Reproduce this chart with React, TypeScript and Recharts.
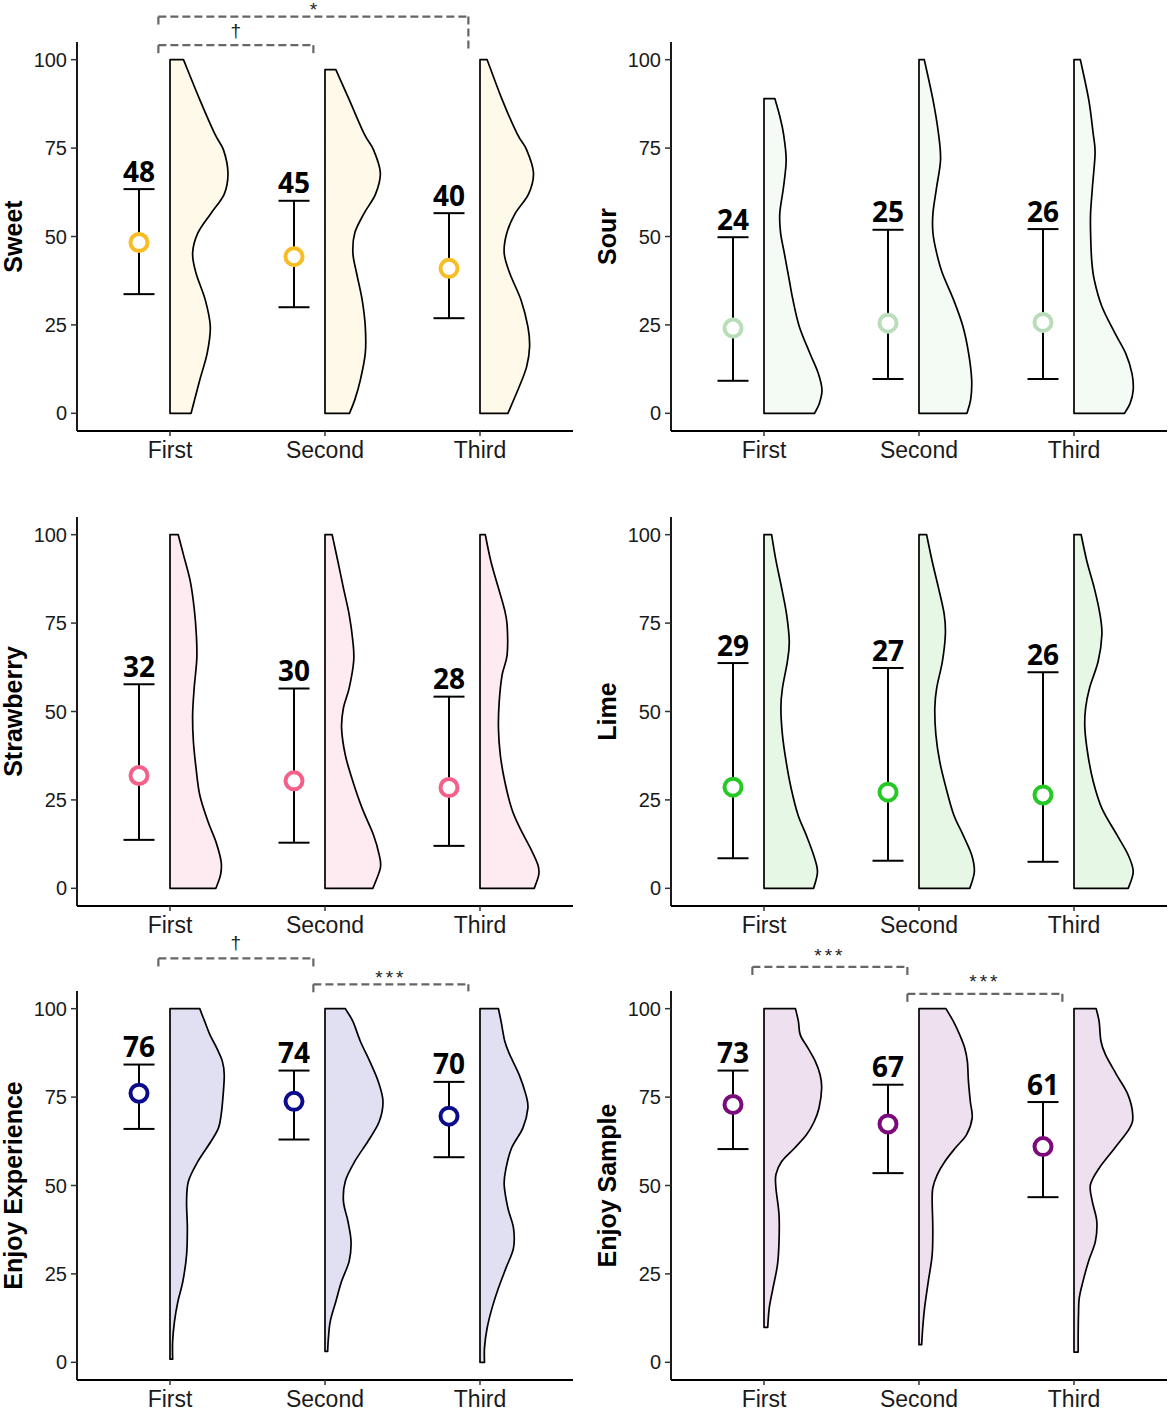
import React from "react";
import { ComposedChart, ErrorBar, ReferenceDot, ReferenceLine, Scatter, XAxis, YAxis } from "recharts";

type Pair = [number, number];
type Bracket = { from: number; to: number; text: string; y: number; leftTip: number; rightTip: number; textY: number };

const categories = ["First", "Second", "Third"];
const yTicks = [0, 25, 50, 75, 100];

// violin outlines: [score, half-width in % of the category step], from top to bottom
const sweetMeans = [48.3, 44.3, 41.0];
const sweetLower = [33.7, 30.0, 26.9];
const sweetUpper = [63.4, 60.1, 56.6];
const sweetLabels = ["48", "45", "40"];
const sweetViolins: Pair[][] = [
  [[100, 8.7], [88.7, 19.2], [79, 28.9], [74.5, 34.5], [68, 37.4], [62, 35], [56.6, 26.5], [51, 18], [45.3, 14.6], [39.6, 16.8], [32, 22.8], [24.5, 26], [17, 24], [9.4, 19.2], [0, 13.6]],
  [[97.2, 7], [88.7, 15.6], [79, 25.3], [74.5, 31.3], [68, 35.7], [62, 32.6], [56.6, 25.3], [51, 19.2], [45.3, 18], [39.6, 20.4], [32, 24], [24.5, 26], [17, 26], [9.4, 22.8], [3.8, 19.2], [0, 15.8]],
  [[100, 4.6], [88.7, 14.3], [79, 24], [74.5, 30.1], [68, 34.5], [62, 31.3], [56.6, 22.8], [51, 17.3], [45.3, 15.6], [39.6, 19.2], [32, 26.5], [24.5, 30.9], [18.9, 32], [13.2, 30.1], [7.5, 25.3], [0, 18]],
];
const sweetBrackets: Bracket[] = [
  { from: 0, to: 1, text: "†", y: 104.1, leftTip: 101.5, rightTip: 101.5, textY: 108.4 },
  { from: 0, to: 2, text: "*", y: 112.2, leftTip: 109.6, rightTip: 102.4, textY: 114.2 },
];

const sourMeans = [24.1, 25.5, 25.7];
const sourLower = [9.2, 9.7, 9.7];
const sourUpper = [49.8, 51.9, 52.1];
const sourLabels = ["24", "25", "26"];
const sourViolins: Pair[][] = [
  [[89, 7], [84, 10.2], [79, 12.6], [71.7, 14.3], [64, 12.6], [56.6, 10.2], [51, 10.7], [45.3, 13.1], [37.7, 16.3], [32, 18.7], [24.5, 22.8], [17, 29.6], [11.3, 35], [6.6, 37.4], [2.8, 35.7], [0, 32.6]],
  [[100, 3.4], [88.7, 9], [79, 12.6], [71.7, 13.9], [64, 11.4], [56.6, 9], [51, 9], [45.3, 11.4], [39.6, 15.1], [32, 22.4], [24.5, 28.4], [17, 32], [9.4, 34], [3.8, 33.3], [0, 30.9]],
  [[100, 4.1], [88.7, 9.5], [79, 12.4], [73.6, 13.6], [64, 11.9], [56.6, 10.7], [51, 10.7], [43.4, 11.4], [37.7, 13.1], [30.2, 18], [22.6, 26.5], [17, 33.3], [11.3, 37.4], [6.6, 38.2], [2.8, 36.2], [0, 32.6]],
];

const strawberryMeans = [31.9, 30.4, 28.5];
const strawberryLower = [13.7, 12.9, 12.0];
const strawberryUpper = [57.7, 56.5, 54.2];
const strawberryLabels = ["32", "30", "28"];
const strawberryViolins: Pair[][] = [
  [[100, 5.3], [94.3, 8.7], [86.8, 13.1], [79.2, 15.6], [71.7, 17], [65, 17.3], [56.6, 15.6], [49, 14.6], [41.5, 15.1], [34, 16.8], [26.4, 19.2], [18.9, 24.5], [13.2, 29.6], [7.5, 33], [3.8, 32.6], [0, 29.6]],
  [[100, 4.6], [92.5, 8.3], [84.9, 11.9], [77.4, 15.6], [69.8, 18], [64.2, 18.5], [56.6, 15.6], [51, 11.9], [45.3, 10.7], [37.7, 13.1], [30.2, 18], [22.6, 24], [15.1, 31.3], [9.4, 35], [5.7, 35.7], [0, 30.9]],
  [[100, 3.4], [92.5, 7], [84.9, 11.9], [79.2, 15.6], [74.5, 17.5], [66, 17.5], [60.4, 14.3], [52.8, 12.4], [45.3, 11.9], [37.7, 13.1], [30.2, 16], [22.6, 20.4], [17, 25.8], [11.3, 32.6], [6.6, 37.4], [3.8, 37.9], [0, 35]],
];

const limeMeans = [28.6, 27.2, 26.4];
const limeLower = [8.5, 7.8, 7.5];
const limeUpper = [63.7, 62.3, 61.1];
const limeLabels = ["29", "27", "26"];
const limeViolins: Pair[][] = [
  [[100, 4.9], [92.5, 7.8], [84.9, 11.4], [77.4, 14.6], [69.8, 16.3], [64.2, 15.1], [56.6, 11.9], [51, 10.9], [43.4, 11.9], [35.8, 14.3], [28.3, 17.5], [20.8, 21.9], [15.1, 27.2], [9.4, 32], [4.7, 34.5], [0, 32]],
  [[100, 4.9], [92.5, 8.5], [84.9, 12.6], [77.4, 16.3], [71.7, 17], [64.2, 15.1], [56.6, 11.4], [51, 10.2], [43.4, 10.9], [35.8, 13.4], [28.3, 17.5], [20.8, 22.4], [15.1, 28.4], [9.4, 34], [4.7, 35.7], [0, 32.8]],
  [[100, 4.6], [92.5, 8.3], [84.9, 13.1], [77.4, 16.8], [71.7, 18], [64.2, 15.6], [56.6, 10], [51, 7.5], [45.3, 7], [37.7, 9], [30.2, 12.4], [22.6, 18], [15.1, 27.7], [9.4, 35], [4.7, 38.2], [0, 35]],
];

const experienceMeans = [76.1, 73.8, 69.6];
const experienceLower = [66.0, 63.0, 58.0];
const experienceUpper = [84.2, 82.5, 79.3];
const experienceLabels = ["76", "74", "70"];
const experienceViolins: Pair[][] = [
  [[100, 19.2], [96.4, 22.4], [92.6, 25.8], [88.9, 30.1], [85.1, 33.8], [81.3, 35], [75.7, 34.3], [70, 33], [66.3, 31.3], [62.5, 26.5], [56.8, 18], [51.2, 11.9], [45.5, 10.7], [38, 11.2], [30.4, 10.7], [22.9, 8.3], [17.2, 5.1], [11.6, 2.9], [5.9, 1.7], [0.9, 1.7]],
  [[100, 13.1], [96.4, 18], [90.8, 22.8], [85.1, 28.9], [79.5, 34.3], [73.8, 37.4], [68.1, 35], [62.5, 27.7], [56.8, 19.2], [51.2, 13.1], [45.5, 11.9], [39.9, 14.8], [34.2, 16.8], [28.6, 15.6], [22.9, 10.7], [17.2, 7], [11.6, 3.4], [6.9, 2.2], [3.1, 1.7]],
  [[100, 11.9], [96.4, 13.6], [90.8, 16], [87, 19.2], [81.3, 25.3], [75.7, 29.6], [71.9, 30.9], [66.3, 27.7], [60.6, 20.4], [54.9, 16.8], [50.2, 15.6], [43.6, 18], [38, 21.6], [32.3, 21.6], [26.7, 16.8], [21, 11.9], [15.4, 7.8], [9.7, 4.6], [4.1, 2.9], [0, 2.9]],
];
const experienceBrackets: Bracket[] = [
  { from: 0, to: 1, text: "†", y: 114.2, leftTip: 111.7, rightTip: 111.7, textY: 118.7 },
  { from: 1, to: 2, text: "***", y: 106.9, leftTip: 104, rightTip: 104.9, textY: 108.9 },
];

const sampleMeans = [72.9, 67.4, 61.0];
const sampleLower = [60.3, 53.5, 46.7];
const sampleUpper = [82.5, 78.5, 73.6];
const sampleLabels = ["73", "67", "61"];
const sampleViolins: Pair[][] = [
  [[100, 20.3], [96.4, 22.2], [92.6, 23.4], [88.9, 28.3], [85.1, 33.1], [81.3, 36.2], [77.5, 37.2], [71.9, 35.5], [68.1, 32.4], [64.4, 27.5], [60.6, 19.8], [56.8, 11.4], [53.1, 7.7], [49.3, 7.7], [41.7, 9.7], [34.2, 9.7], [27.6, 8.7], [21, 5.8], [15.4, 3.4], [9.9, 2.4]],
  [[100, 17.4], [96.4, 22.2], [92.6, 26.3], [88.9, 29.5], [85.1, 31.2], [79.5, 31.9], [73.8, 33.1], [69.1, 34.3], [64.4, 30.7], [60.6, 23.4], [56.8, 16.7], [53.1, 11.8], [49.3, 8.9], [45.5, 8.5], [38, 8.9], [30.4, 8.5], [22.9, 6], [15.4, 3.6], [9.7, 2.4], [5, 1.7]],
  [[100, 14.3], [96.4, 16.2], [90.8, 17.4], [87, 20.3], [81.3, 27.5], [75.7, 34.8], [70, 37.9], [66.3, 36], [60.6, 26.3], [54.9, 16.2], [50.2, 10.6], [45.5, 11.8], [39.9, 14.7], [34.2, 13.8], [28.6, 9.4], [22.9, 5.8], [18.2, 3.4], [13.5, 2.9], [7.8, 2.7], [2.9, 2.7]],
];
const sampleBrackets: Bracket[] = [
  { from: 0, to: 1, text: "***", y: 111.8, leftTip: 109, rightTip: 109, textY: 115.2 },
  { from: 1, to: 2, text: "***", y: 104.2, leftTip: 101.7, rightTip: 101.7, textY: 107.8 },
];

const sans = "'Liberation Sans', Arial, sans-serif";
const MEAN_SHIFT = -0.2;
const BRACKET_SHIFT = -0.075;

function violinPoints(pairs: Pair[], pos: number) {
  const top = pairs[0][0];
  const bottom = pairs[pairs.length - 1][0];
  return [
    { x: pos, y: top },
    ...pairs.map(([y, w]) => ({ x: pos + w / 100, y })),
    { x: pos, y: bottom },
  ];
}

// flat spine + smooth (catmull-rom) outer edge
function violinPath(pts: { x: number; y: number }[]) {
  if (!pts || pts.length < 3) return "";
  const curve = pts.slice(1, -1);
  let d = `M${pts[0].x},${pts[0].y}L${curve[0].x},${curve[0].y}`;
  for (let i = 0; i < curve.length - 1; i++) {
    const p0 = curve[i - 1] || curve[i];
    const p1 = curve[i];
    const p2 = curve[i + 1];
    const p3 = curve[i + 2] || p2;
    const c1x = p1.x + (p2.x - p0.x) / 6;
    const c1y = p1.y + (p2.y - p0.y) / 6;
    const c2x = p2.x - (p3.x - p1.x) / 6;
    const c2y = p2.y - (p3.y - p1.y) / 6;
    d += `C${c1x},${c1y},${c2x},${c2y},${p2.x},${p2.y}`;
  }
  const last = pts[pts.length - 1];
  return d + `L${last.x},${last.y}Z`;
}

const noShape = () => <g />;

type PanelProps = {
  title: string;
  means: number[];
  lower: number[];
  upper: number[];
  labels: string[];
  violins: Pair[][];
  ring: string;
  fill: string;
  brackets: Bracket[];
  marginTop: number;
  height: number;
};

function Panel({ title, means, lower, upper, labels, violins, ring, fill, brackets, marginTop, height }: PanelProps) {
  const meanData = means.map((m, i) => ({ x: i + 1 + MEAN_SHIFT, y: m, err: [m - lower[i], upper[i] - m] }));
  const labelData = upper.map((u, i) => ({ x: i + 1 + MEAN_SHIFT, y: u, label: labels[i] }));
  const dash = { stroke: "#666", strokeWidth: 2.2, strokeDasharray: "8 4", ifOverflow: "visible" as const };

  return (
    <ComposedChart width={575} height={height} margin={{ top: marginTop, right: 2, bottom: height - marginTop - 389 - 30, left: 0 }}>
      <XAxis
        type="number"
        dataKey="x"
        domain={[0.4, 3.6]}
        ticks={[1, 2, 3]}
        interval={0}
        tickFormatter={(v: number) => categories[Math.round(v) - 1]}
        axisLine={{ stroke: "#000", strokeWidth: 1.8 }}
        tickLine={{ stroke: "#333", strokeWidth: 1.5 }}
        tickSize={5}
        tickMargin={6}
        height={30}
        tick={{ fill: "#1a1a1a", fontSize: 23, fontFamily: sans }}
      />
      <YAxis
        type="number"
        dataKey="y"
        domain={[-5, 105]}
        ticks={yTicks}
        interval={0}
        width={77}
        axisLine={{ stroke: "#000", strokeWidth: 1.8 }}
        tickLine={{ stroke: "#333", strokeWidth: 1.5 }}
        tickSize={6}
        tickMargin={4}
        tick={{ fill: "#1a1a1a", fontSize: 20, fontFamily: sans }}
        label={{
          value: title,
          angle: -90,
          position: "insideLeft",
          offset: 13,
          style: { textAnchor: "middle", fontSize: 25, fontWeight: 700, fontFamily: sans, fill: "#000" },
        }}
      />
      {violins.map((v, i) => (
        <Scatter
          key={`violin-${i}`}
          data={violinPoints(v, i + 1)}
          shape={noShape}
          line={(p: any) => <path d={violinPath(p.points)} fill={fill} stroke="#000" strokeWidth={1.7} strokeLinejoin="round" />}
          isAnimationActive={false}
        />
      ))}
      <Scatter
        data={meanData}
        isAnimationActive={false}
        shape={(p: any) => <circle cx={p.cx} cy={p.cy} r={8.5} fill="#fff" stroke={ring} strokeWidth={4} />}
      >
        <ErrorBar dataKey="err" direction="y" width={15.5} stroke="#000" strokeWidth={2} />
      </Scatter>
      <Scatter
        data={labelData}
        isAnimationActive={false}
        shape={(p: any) => (
          <text x={p.cx} y={p.cy - 7.5} textAnchor="middle" fontFamily="'Noto Sans', sans-serif" fontWeight={700} fontSize={28} fill="#000">
            {p.payload.label}
          </text>
        )}
      />
      {brackets.map((b, k) => {
        const x1 = b.from + 1 + BRACKET_SHIFT;
        const x2 = b.to + 1 + BRACKET_SHIFT;
        return (
          <React.Fragment key={`br-${k}`}>
            <ReferenceLine segment={[{ x: x1, y: b.y }, { x: x2, y: b.y }]} {...dash} />
            <ReferenceLine segment={[{ x: x1, y: b.y }, { x: x1, y: b.leftTip }]} {...dash} />
            <ReferenceLine segment={[{ x: x2, y: b.y }, { x: x2, y: b.rightTip }]} {...dash} />
            <ReferenceDot
              x={(x1 + x2) / 2}
              y={b.textY}
              r={0}
              stroke="none"
              fill="none"
              ifOverflow="visible"
              label={{ value: b.text, position: "center", fill: "#222", fontSize: b.text === "***" ? 19 : 19, fontFamily: sans, letterSpacing: b.text === "***" ? 3 : 0 }}
            />
          </React.Fragment>
        );
      })}
    </ComposedChart>
  );
}

const panels = [
  { title: "Sweet", means: sweetMeans, lower: sweetLower, upper: sweetUpper, labels: sweetLabels, violins: sweetViolins, ring: "#F8BD25", fill: "#FFF9EA", brackets: sweetBrackets, left: 0, top: 0, marginTop: 42, height: 475 },
  { title: "Sour", means: sourMeans, lower: sourLower, upper: sourUpper, labels: sourLabels, violins: sourViolins, ring: "#B9DDB9", fill: "#F4FAF4", brackets: [], left: 594, top: 0, marginTop: 42, height: 475 },
  { title: "Strawberry", means: strawberryMeans, lower: strawberryLower, upper: strawberryUpper, labels: strawberryLabels, violins: strawberryViolins, ring: "#F4608A", fill: "#FDEBF1", brackets: [], left: 0, top: 475, marginTop: 42, height: 475 },
  { title: "Lime", means: limeMeans, lower: limeLower, upper: limeUpper, labels: limeLabels, violins: limeViolins, ring: "#26C826", fill: "#E7F7E5", brackets: [], left: 594, top: 475, marginTop: 42, height: 475 },
  { title: "Enjoy Experience", means: experienceMeans, lower: experienceLower, upper: experienceUpper, labels: experienceLabels, violins: experienceViolins, ring: "#0B0B8B", fill: "#E0E0F2", brackets: experienceBrackets, left: 0, top: 925, marginTop: 66, height: 487 },
  { title: "Enjoy Sample", means: sampleMeans, lower: sampleLower, upper: sampleUpper, labels: sampleLabels, violins: sampleViolins, ring: "#7D0A7D", fill: "#EEE0EF", brackets: sampleBrackets, left: 594, top: 925, marginTop: 66, height: 487 },
];

export default function App() {
  return (
    <div style={{ position: "absolute", left: 0, top: 0, width: 1169, height: 1412, overflow: "hidden", background: "#fff" }}>
      {panels.map((p) => (
        <div key={p.title} style={{ position: "absolute", left: p.left, top: p.top }}>
          <Panel {...p} />
        </div>
      ))}
    </div>
  );
}
